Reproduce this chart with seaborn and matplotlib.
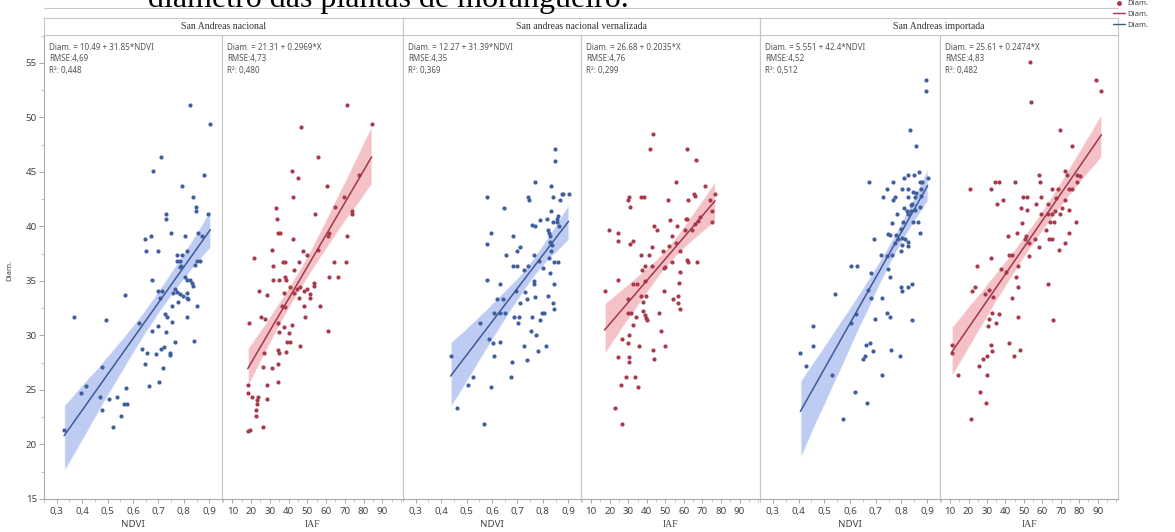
import matplotlib
matplotlib.use("Agg")
import matplotlib.pyplot as plt
import matplotlib.ticker as tkr
from matplotlib.lines import Line2D
from matplotlib.collections import PolyCollection
import seaborn as sns
import numpy as np

sns.set_style("white")
plt.rcParams['font.family'] = ['Noto Sans', 'DejaVu Sans']

# ---- data ----
# San Andreas nacional
ndvi_nac = [0.825, 0.904, 0.710, 0.680, 0.880, 0.792, 0.834, 0.848, 0.848, 0.730, 0.730, 0.894,
            0.750, 0.805, 0.857, 0.871, 0.647, 0.670, 0.650, 0.700, 0.772, 0.792, 0.814, 0.772,
            0.785, 0.790, 0.785, 0.851, 0.864, 0.844, 0.805, 0.812, 0.673, 0.825, 0.831, 0.835,
            0.700, 0.713, 0.765, 0.772, 0.759, 0.785, 0.798, 0.812, 0.818, 0.812, 0.706, 0.778,
            0.568, 0.853, 0.752, 0.726, 0.733, 0.812, 0.368, 0.493, 0.752, 0.700, 0.625, 0.673,
            0.730, 0.765, 0.838, 0.634, 0.654, 0.689, 0.709, 0.723, 0.746, 0.746, 0.647, 0.719,
            0.480, 0.664, 0.703, 0.397, 0.414, 0.572, 0.470, 0.506, 0.538, 0.564, 0.575, 0.480,
            0.551, 0.522, 0.329]
diam_ndvi_nac = [51.1, 49.4, 46.4, 45.1, 44.7, 43.7, 42.7, 41.8, 41.4, 41.1, 40.7, 41.1,
                 39.4, 39.1, 39.4, 39.1, 38.8, 39.1, 37.7, 37.7, 37.4, 37.4, 37.7, 36.8,
                 36.8, 36.4, 36.3, 36.8, 36.8, 36.5, 35.4, 35.1, 35.1, 35.1, 34.8, 34.5,
                 34.1, 34.1, 34.3, 34.0, 33.9, 33.8, 33.6, 33.9, 33.3, 33.4, 33.4, 33.1,
                 33.7, 32.7, 32.7, 32.0, 31.7, 31.7, 31.7, 31.4, 31.2, 30.9, 31.1, 30.4,
                 30.3, 29.4, 29.5, 28.8, 28.4, 28.3, 28.8, 28.9, 28.4, 28.2, 27.4, 27.0,
                 27.1, 25.4, 25.7, 24.75, 25.4, 25.2, 24.4, 24.2, 24.4, 23.7, 23.7, 23.2,
                 22.6, 21.6, 21.3]
iaf_nac = [71.3, 84.3, 46.8, 55.7, 41.8, 45.0, 60.6, 42.1, 77.5, 69.4, 65.0, 73.9, 73.9, 33.4,
           33.8, 54.3, 34.6, 35.5, 61.4, 61.1, 71.3, 42.1, 31.1, 47.7, 49.8, 55.5, 21.6, 36.8,
           38.2, 31.6, 45.3, 64.1, 70.4, 42.7, 31.9, 35.1, 38.2, 38.7, 61.4, 66.4, 53.4, 53.4,
           40.9, 44.5, 46.2, 48.0, 49.8, 24.4, 28.4, 37.3, 42.7, 45.3, 51.2, 51.6, 48.4, 56.6,
           36.4, 38.2, 61.1, 25.3, 27.5, 18.9, 34.6, 37.7, 48.9, 35.1, 40.0, 41.8, 39.4, 40.9,
           45.9, 34.6, 35.0, 38.6, 27.1, 34.1, 26.3, 31.1, 34.6, 18.2, 28.7, 18.2, 20.4, 23.9,
           28.4, 23.0, 23.4, 22.5, 22.5, 26.6, 18.2, 19.4]
diam_iaf_nac = [51.1, 49.4, 49.1, 46.4, 45.1, 44.4, 43.7, 42.7, 44.7, 42.7, 41.8, 41.4, 41.1, 41.7,
                40.7, 41.1, 39.4, 39.4, 39.4, 39.1, 39.1, 38.8, 37.8, 37.7, 37.4, 37.8, 37.1, 36.7,
                36.7, 36.4, 36.7, 36.7, 36.7, 36.0, 35.1, 35.1, 35.4, 35.1, 35.4, 35.4, 34.8, 34.5,
                34.4, 34.3, 34.4, 34.1, 34.3, 34.1, 33.7, 33.9, 33.9, 33.4, 33.8, 33.4, 32.7, 32.7,
                32.7, 32.6, 30.4, 31.7, 31.5, 31.1, 31.1, 30.8, 31.7, 30.3, 30.2, 31.0, 29.4, 29.4,
                29.0, 28.7, 28.4, 28.5, 28.4, 27.4, 27.1, 27.0, 25.7, 25.5, 25.5, 24.75, 24.4, 24.4,
                24.2, 24.1, 23.7, 23.2, 22.6, 21.6, 21.2, 21.3]

# San andreas nacional vernalizada
ndvi_ver = [0.848, 0.848, 0.769, 0.831, 0.874, 0.901, 0.878, 0.582, 0.741, 0.747, 0.839, 0.868,
            0.649, 0.831, 0.861, 0.815, 0.789, 0.839, 0.855, 0.857, 0.865, 0.756, 0.770, 0.822,
            0.826, 0.829, 0.595, 0.684, 0.829, 0.835, 0.831, 0.582, 0.710, 0.697, 0.655, 0.767,
            0.826, 0.842, 0.861, 0.783, 0.684, 0.697, 0.743, 0.724, 0.800, 0.829, 0.579, 0.632,
            0.766, 0.766, 0.842, 0.693, 0.728, 0.619, 0.645, 0.710, 0.739, 0.769, 0.822, 0.838,
            0.844, 0.608, 0.632, 0.651, 0.798, 0.806, 0.687, 0.708, 0.701, 0.759, 0.789, 0.553,
            0.752, 0.773, 0.590, 0.603, 0.632, 0.727, 0.812, 0.780, 0.609, 0.737, 0.678, 0.437,
            0.524, 0.504, 0.675, 0.595, 0.461, 0.569]
diam_ndvi_ver = [47.1, 46.0, 44.1, 43.7, 43.0, 43.0, 43.0, 42.7, 42.7, 42.4, 42.7, 42.4,
                 41.7, 41.4, 41.0, 40.7, 40.6, 40.4, 40.4, 40.7, 40.0, 40.1, 40.0, 39.7,
                 39.4, 39.1, 39.4, 39.1, 38.6, 38.3, 37.7, 38.4, 38.1, 37.7, 37.4, 37.4,
                 37.1, 36.7, 36.7, 36.8, 36.4, 36.4, 36.4, 36.0, 36.2, 35.7, 35.1, 34.7,
                 35.0, 34.7, 34.7, 34.1, 34.0, 33.3, 33.3, 33.0, 33.3, 33.5, 33.6, 33.0,
                 32.4, 32.1, 32.1, 32.1, 32.1, 32.1, 31.7, 31.7, 31.1, 31.7, 31.4, 31.1,
                 30.4, 30.0, 29.7, 29.3, 29.4, 29.0, 29.0, 28.6, 28.1, 27.75, 27.6, 28.1,
                 26.2, 25.5, 26.2, 25.3, 23.3, 21.9]
iaf_ver = [43.2, 41.5, 61.8, 66.6, 55.9, 71.2, 30.3, 29.6, 37.0, 38.4, 30.8, 51.2, 62.3, 65.3,
           66.2, 76.8, 74.2, 75.1, 75.1, 52.6, 60.9, 61.4, 56.5, 68.5, 67.5, 65.7, 44.1, 45.5,
           19.7, 24.3, 24.3, 30.8, 32.6, 60.4, 64.5, 53.8, 55.6, 52.1, 57.9, 42.7, 37.0, 41.1,
           48.5, 53.3, 49.8, 49.1, 38.8, 37.4, 42.7, 61.8, 62.3, 67.1, 57.7, 24.3, 17.2, 32.6,
           34.9, 38.8, 57.4, 49.4, 30.0, 37.0, 39.7, 37.9, 54.2, 57.0, 57.0, 57.7, 30.0, 31.4,
           37.9, 38.8, 39.7, 40.2, 34.4, 46.8, 32.6, 47.6, 49.8, 26.4, 30.5, 29.6, 35.6, 43.2,
           44.1, 24.6, 30.3, 30.3, 28.5, 33.5, 26.1, 35.3, 22.9, 26.8]
diam_iaf_ver = [48.45, 47.1, 47.1, 46.1, 44.1, 43.7, 42.7, 42.4, 42.7, 42.7, 41.8, 42.4, 42.4, 43.0,
                42.8, 43.0, 42.4, 41.4, 40.4, 40.6, 40.7, 40.7, 40.0, 40.9, 40.5, 40.2, 40.0, 39.7,
                39.7, 39.4, 38.7, 38.4, 38.7, 39.7, 39.7, 39.1, 38.5, 38.2, 37.7, 38.1, 37.4, 37.4,
                37.7, 36.7, 36.3, 36.2, 36.4, 36.0, 36.4, 36.9, 36.7, 36.7, 35.8, 35.1, 34.1, 34.7,
                34.7, 35.0, 34.8, 34.1, 33.3, 33.6, 33.6, 33.1, 33.3, 33.6, 33.0, 32.4, 32.1, 32.1,
                32.2, 31.9, 31.6, 31.4, 31.7, 32.1, 31.0, 30.4, 29.0, 29.7, 30.0, 29.3, 29.0, 28.7,
                27.8, 28.06, 28.06, 27.6, 26.2, 26.2, 25.5, 25.3, 23.3, 21.9]

# San Andreas importada
ndvi_imp = [0.895, 0.895, 0.835, 0.855, 0.672, 0.768, 0.809, 0.826, 0.850, 0.869, 0.872, 0.881,
            0.902, 0.742, 0.729, 0.768, 0.774, 0.803, 0.824, 0.846, 0.855, 0.852, 0.876, 0.878,
            0.826, 0.837, 0.843, 0.811, 0.820, 0.826, 0.837, 0.781, 0.872, 0.852, 0.764, 0.807,
            0.846, 0.863, 0.748, 0.755, 0.800, 0.874, 0.777, 0.787, 0.803, 0.813, 0.824, 0.803,
            0.692, 0.774, 0.826, 0.800, 0.719, 0.742, 0.764, 0.605, 0.627, 0.683, 0.748, 0.757,
            0.670, 0.540, 0.800, 0.803, 0.826, 0.842, 0.683, 0.725, 0.624, 0.742, 0.757, 0.699,
            0.843, 0.602, 0.455, 0.663, 0.679, 0.689, 0.761, 0.794, 0.455, 0.407, 0.657, 0.650,
            0.429, 0.529, 0.725, 0.618, 0.667, 0.572]
diam_ndvi_imp = [53.4, 52.4, 48.8, 47.4, 44.1, 44.1, 44.4, 44.7, 44.7, 45.0, 44.1, 44.1,
                 44.4, 43.4, 42.7, 42.4, 42.7, 43.4, 43.4, 43.2, 43.1, 42.7, 43.4, 42.8,
                 42.7, 42.0, 42.1, 41.7, 41.4, 41.1, 41.4, 41.1, 41.8, 41.5, 40.3, 40.4,
                 40.4, 40.4, 39.3, 39.2, 39.8, 39.4, 39.2, 38.8, 38.9, 38.8, 38.6, 38.3,
                 38.8, 38.5, 38.2, 37.7, 37.4, 37.3, 37.4, 36.4, 36.4, 35.7, 36.1, 35.4,
                 34.2, 33.8, 34.4, 34.1, 34.4, 34.7, 33.4, 33.4, 32.0, 32.1, 31.7, 31.5,
                 31.4, 31.1, 30.9, 29.1, 29.3, 28.6, 28.7, 28.1, 29.0, 28.4, 28.1, 27.8,
                 27.2, 26.4, 26.4, 24.8, 23.8, 22.3]
iaf_imp = [53.3, 89.3, 92.0, 54.0, 69.7, 75.9, 72.4, 73.3, 78.6, 80.4, 58.1, 58.6, 20.6, 32.2,
           34.4, 36.7, 45.2, 65.2, 68.3, 74.7, 75.9, 78.6, 49.7, 51.8, 59.5, 35.4, 38.8, 48.3,
           51.8, 56.7, 63.1, 67.5, 72.4, 70.6, 67.0, 74.2, 59.0, 63.1, 65.2, 69.7, 49.2, 64.0,
           66.1, 78.2, 61.7, 74.7, 46.5, 41.1, 50.9, 55.9, 52.7, 50.4, 63.4, 65.2, 72.0, 68.8,
           58.1, 52.7, 42.0, 43.3, 31.9, 47.0, 24.7, 37.6, 40.2, 45.9, 46.8, 62.9, 22.0, 23.3,
           29.0, 31.3, 33.1, 43.8, 32.8, 36.7, 34.9, 30.4, 31.3, 47.0, 65.6, 32.2, 32.8, 42.0,
           47.9, 44.7, 10.8, 10.8, 14.4, 30.1, 27.8, 25.4, 29.9, 26.0, 29.5, 21.5]
diam_iaf_imp = [55.1, 53.4, 52.4, 51.4, 48.8, 47.4, 45.1, 44.7, 44.7, 44.6, 44.7, 44.1, 43.4, 43.4,
                44.1, 44.1, 44.1, 43.4, 43.4, 43.4, 43.4, 44.1, 42.7, 42.7, 42.7, 42.1, 42.4, 41.7,
                41.5, 42.1, 42.1, 42.6, 42.4, 41.7, 41.4, 41.5, 41.1, 41.1, 41.1, 41.1, 40.3, 40.4,
                40.4, 40.4, 39.7, 39.4, 39.4, 39.1, 39.1, 38.8, 38.5, 38.8, 38.8, 38.8, 38.5, 37.8,
                38.1, 37.3, 37.4, 37.4, 37.1, 36.4, 36.4, 36.1, 35.8, 35.4, 34.4, 34.7, 34.1, 34.4,
                33.8, 34.2, 33.5, 33.4, 32.1, 32.0, 31.1, 30.9, 31.5, 31.7, 31.4, 29.1, 28.6, 29.3,
                28.7, 28.1, 29.1, 28.4, 26.4, 28.1, 27.8, 27.2, 26.4, 24.8, 23.8, 22.3]

group_names = ["San Andreas nacional", "San andreas nacional vernalizada", "San Andreas importada"]
eq_txt = ["Diam. = 10.49 + 31.85*NDVI", "Diam. = 21.31 + 0.2969*X",
          "Diam. = 12.27 + 31.39*NDVI", "Diam. = 26.68 + 0.2035*X",
          "Diam. = 5.551 + 42.4*NDVI", "Diam. = 25.61 + 0.2474*X"]
rmse_txt = ["4,69", "4,73", "4,35", "4,76", "4,52", "4,83"]
r2_txt = ["0,448", "0,480", "0,369", "0,299", "0,512", "0,482"]

ndvi_ticks = [0.3, 0.4, 0.5, 0.6, 0.7, 0.8, 0.9]
ndvi_labels = ["0,3", "0,4", "0,5", "0,6", "0,7", "0,8", "0,9"]
iaf_ticks = [10, 20, 30, 40, 50, 60, 70, 80, 90]
iaf_labels = [str(t) for t in iaf_ticks]
y_ticks = [15, 20, 25, 30, 35, 40, 45, 50, 55]

# ---- styling ----
W, H = 1175, 532
blueDot, blueLine, blueBand = "#3f5f9f", "#3d5a98", "#a9baee"
redDot, redLine, redBand = "#a93a4b", "#a0384a", "#f1adb4"
txtGrey = "#555555"
edgeGrey = "#c6c6c6"

panels_px = [(44, 222), (222, 403), (403, 581), (581, 760), (760, 940), (940, 1118)]
top_px, bot_px = 34.5, 499

fig = plt.figure(figsize=(W / 100, H / 100), dpi=100)

series = [(ndvi_nac, diam_ndvi_nac), (iaf_nac, diam_iaf_nac),
          (ndvi_ver, diam_ndvi_ver), (iaf_ver, diam_iaf_ver),
          (ndvi_imp, diam_ndvi_imp), (iaf_imp, diam_iaf_imp)]

axes = []
for i, ((x0, x1), (xs, ys)) in enumerate(zip(panels_px, series)):
    ax = fig.add_axes([x0 / W, 1 - bot_px / H, (x1 - x0) / W, (bot_px - top_px) / H])
    axes.append(ax)
    isNdvi = (i % 2 == 0)
    dotC, lineC, bandC = (blueDot, blueLine, blueBand) if isNdvi else (redDot, redLine, redBand)

    sns.regplot(x=np.array(xs), y=np.array(ys), ax=ax, ci=95, n_boot=1000, seed=3,
                color=lineC,
                scatter_kws={"s": 9, "linewidths": 0, "color": dotC, "alpha": 1, "zorder": 3},
                line_kws={"lw": 1.1, "zorder": 4})
    for pc in ax.collections:
        if isinstance(pc, PolyCollection):
            pc.set_facecolor(bandC)
            pc.set_alpha(0.75)
            pc.set_zorder(2)

    ax.set_ylim(15, 57.6)
    if isNdvi:
        ax.set_xlim(0.25, 0.95)
        ax.set_xticks(ndvi_ticks)
        ax.set_xticklabels(ndvi_labels)
        ax.xaxis.set_minor_locator(tkr.MultipleLocator(0.05))
        ax.set_xlabel("NDVI", fontsize=7, color="#444444", labelpad=3)
    else:
        ax.set_xlim(4.5, 101)
        ax.set_xticks(iaf_ticks)
        ax.set_xticklabels(iaf_labels)
        ax.xaxis.set_minor_locator(tkr.MultipleLocator(5))
        ax.set_xlabel("IAF", fontsize=7, color="#444444", labelpad=3,
                      family=["Liberation Serif"])

    ax.tick_params(axis="x", which="major", direction="out", length=3, width=0.6,
                   color="#999999", labelcolor="#444444", labelsize=7, pad=2.5, bottom=True)
    ax.tick_params(axis="x", which="minor", direction="out", length=1.8, width=0.5,
                   color="#aaaaaa", bottom=True)
    if i == 0:
        ax.set_yticks(y_ticks)
        ax.yaxis.set_minor_locator(tkr.MultipleLocator(2.5))
        ax.tick_params(axis="y", which="major", direction="out", length=3.5, width=0.6,
                       color="#999999", labelcolor="#444444", labelsize=7, pad=1.5, left=True)
        ax.tick_params(axis="y", which="minor", direction="out", length=2, width=0.5,
                       color="#aaaaaa", left=True)
    else:
        ax.tick_params(axis="y", which="both", left=False, labelleft=False)
    ax.set_ylabel("")

    for sp in ax.spines.values():
        sp.set_color(edgeGrey)
        sp.set_linewidth(0.8)
    ax.spines["bottom"].set_color("#aaaaaa")
    if i == 0:
        ax.spines["left"].set_color("#aaaaaa")

    ax.annotate(eq_txt[i], xy=(0, 1), xycoords="axes fraction", xytext=(5, -12.5),
                textcoords="offset pixels", va="center", ha="left", fontsize=5.8, color=txtGrey)
    ax.annotate("RMSE:" + rmse_txt[i], xy=(0, 1), xycoords="axes fraction", xytext=(5, -24),
                textcoords="offset pixels", va="center", ha="left", fontsize=5.8, color=txtGrey)
    ax.annotate("R²: " + r2_txt[i], xy=(0, 1), xycoords="axes fraction", xytext=(5, -35.5),
                textcoords="offset pixels", va="center", ha="left", fontsize=5.8, color=txtGrey)

# group header strips
for g, name in enumerate(group_names):
    x0 = panels_px[2 * g][0]
    x1 = panels_px[2 * g + 1][1]
    hdr = fig.add_axes([x0 / W, 1 - top_px / H, (x1 - x0) / W, (top_px - 18) / H])
    hdr.set_xticks([])
    hdr.set_yticks([])
    for sp in hdr.spines.values():
        sp.set_color(edgeGrey)
        sp.set_linewidth(0.8)
    hdr.text(0.5, 0.5, name, ha="center", va="center", fontsize=7,
             family=["Liberation Serif"], color="#333333", transform=hdr.transAxes)

fig.text(10 / W, 1 - 270 / H, "Diam.", rotation=90, ha="center", va="center",
         fontsize=5.5, color="#444444")

# cropped document caption and rule above the chart (cut at the top edge, as in the source)
fig.text(148 / W, 1 - 6.5 / H, "diâmetro das plantas de morangueiro.", ha="left",
         va="baseline", fontsize=23, family=["Liberation Serif"], color="black")
fig.add_artist(Line2D([44 / W, 1118 / W], [1 - 7.5 / H] * 2, color="#c8c8c8", lw=0.8))

handles = [Line2D([], [], ls="none", marker="o", ms=2.5, color=redDot),
           Line2D([], [], color=redLine, lw=1.0),
           Line2D([], [], color=blueLine, lw=1.0)]
fig.legend(handles, ["Diam.", "Diam.", "Diam."], loc="upper left",
           bbox_to_anchor=(1113 / W, 1.0), frameon=False, fontsize=5.5,
           handlelength=1.6, handletextpad=0.3, labelspacing=0.45,
           borderpad=0, borderaxespad=0, labelcolor="#444444")

fig.savefig("out.png", dpi=100)
